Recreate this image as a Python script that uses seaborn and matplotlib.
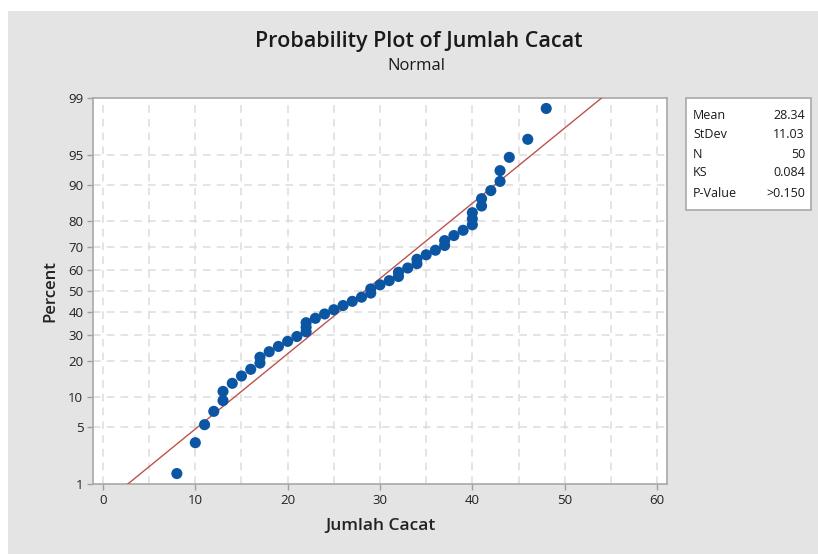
import numpy as np
import pandas as pd
import matplotlib
matplotlib.use("Agg")
import matplotlib.pyplot as plt
from matplotlib.patches import Rectangle
import seaborn as sns
from statistics import NormalDist

# ---- data (Jumlah Cacat, sorted) ----
jumlah_cacat = [8, 10, 11, 12, 13, 13, 14, 15, 16, 17, 17, 18, 19, 20, 21, 22, 22, 22,
                23, 24, 25, 26, 27, 28, 29, 29, 30, 31, 32, 32, 33, 34, 34, 35, 36, 37, 37,
                38, 39, 40, 40, 40, 41, 41, 42, 43, 43, 44, 46, 48]
percent_ticks = [1, 5, 10, 20, 30, 40, 50, 60, 70, 80, 90, 95, 99]
x_ticks = [0, 10, 20, 30, 40, 50, 60]
stat_labels = ["Mean", "StDev", "N", "KS", "P-Value"]
stat_values = ["28.34", "11.03", "50", "0.084", ">0.150"]

sns.set_theme(style="white")
plt.rcParams['font.family'] = ['Open Sans', 'DejaVu Sans']

data = np.sort(np.array(jumlah_cacat, dtype=float))
n = len(data)
ranks = np.arange(1, n + 1)
pct = (ranks - 0.3) / (n + 0.4) * 100.0
df = pd.DataFrame({"Jumlah Cacat": data, "Percent": pct})

mu = data.mean()
sd = data.std(ddof=1)
nd = NormalDist()
_ppf = np.vectorize(lambda p: nd.inv_cdf(min(max(p, 1e-9), 1 - 1e-9)), otypes=[float])
_cdf = np.vectorize(nd.cdf, otypes=[float])


def fwd(p):
    return _ppf(np.asarray(p, dtype=float) / 100.0)


def inv(z):
    return _cdf(np.asarray(z, dtype=float)) * 100.0


line_p = np.linspace(0.5, 99.5, 300)
line_df = pd.DataFrame({"x": mu + sd * fwd(line_p), "Percent": line_p})

W, H = 818, 554
fig = plt.figure(figsize=(W / 100, H / 100), dpi=100, facecolor="white")
fig.patches.append(Rectangle((8 / W, 0), 1 - 8 / W, 1 - 11 / H, transform=fig.transFigure,
                             facecolor="#e4e4e4", edgecolor="none", zorder=-10))

ax = fig.add_axes([93 / W, 1 - 484 / H, (667 - 93) / W, (484 - 98) / H])
ax.set_zorder(1)
ax.set_facecolor("white")
ax.set_yscale("function", functions=(fwd, inv))

sns.lineplot(data=line_df, x="x", y="Percent", ax=ax, color="#bc534e", lw=1.0,
             sort=False, zorder=3)
sns.scatterplot(data=df, x="Jumlah Cacat", y="Percent", ax=ax, color="#0b55a3",
                s=64, edgecolor="none", zorder=4)

ax.set_xlim(-1.08, 61.08)
ax.set_ylim(1, 99)
ax.set_xticks(x_ticks)
ax.set_xticks(np.arange(0, 61, 5), minor=True)
ax.set_yticks(percent_ticks)
ax.set_yticklabels([str(t) for t in percent_ticks])
ax.yaxis.set_minor_locator(matplotlib.ticker.NullLocator())

for v in np.arange(0, 61, 5):
    ax.axvline(v, color="#dcdcdc", lw=1.1, ls=(0, (5, 4)), zorder=1)
for p in percent_ticks[1:-1]:
    ax.axhline(p, color="#dcdcdc", lw=1.1, ls=(0, (5, 4)), zorder=1)

for s in ax.spines.values():
    s.set_color("#a8a8a8")
    s.set_linewidth(1.2)

ax.tick_params(axis="both", which="major", direction="out", length=4, width=1,
               color="#a0a0a0", labelsize=9.5, labelcolor="#222222", pad=3,
               left=True, bottom=True)
ax.tick_params(axis="x", which="minor", length=0)

ax.set_xlabel("Jumlah Cacat", fontsize=12.5, color="#222222", labelpad=8,
              fontweight="semibold")
ax.set_ylabel("Percent", fontsize=12, color="#222222", labelpad=7,
              fontweight="semibold")

fig.text(419 / W, 1 - 41 / H, "Probability Plot of Jumlah Cacat", ha="center", va="center",
         fontsize=15.5, color="#1a1a1a", fontweight="semibold")
fig.text(416 / W, 1 - 66 / H, "Normal", ha="center", va="center", fontsize=12,
         color="#1a1a1a")

# stats box
fig.patches.append(Rectangle((686 / W, 1 - 210 / H), (811 - 686) / W, (210 - 98) / H,
                             transform=fig.transFigure, facecolor="white",
                             edgecolor="#a8a8a8", lw=1.2, zorder=2))
row_y = [115, 134, 154, 173, 193]
for lab, val, yy in zip(stat_labels, stat_values, row_y):
    fig.text(693 / W, 1 - yy / H, lab, ha="left", va="center", fontsize=9, color="#1a1a1a")
    fig.text(805 / W, 1 - yy / H, val, ha="right", va="center", fontsize=9, color="#1a1a1a")

fig.savefig("out.png", dpi=100, facecolor=fig.get_facecolor())
